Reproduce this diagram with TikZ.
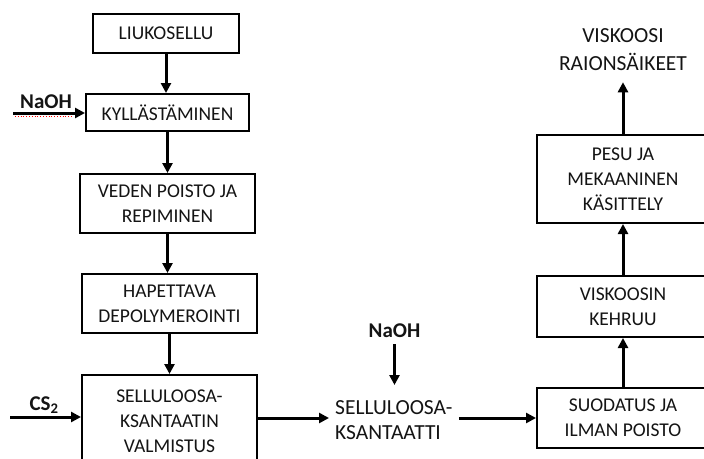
\documentclass[tikz,border=0pt]{standalone}
\usepackage{fontspec}
\setmainfont{Carlito}
\usetikzlibrary{arrows.meta}
\begin{document}
\begin{tikzpicture}[x=1pt,y=-1pt,
  stage/.style={draw, line width=2pt, rectangle, inner sep=0pt, align=center,
    font=\fontsize{19.5}{25}\selectfont, text=black!92},
  freetext/.style={inner sep=0pt, font=\fontsize{21.5}{25}\selectfont, text=black!92},
  chem/.style={inner sep=0pt, font=\fontsize{21}{25}\selectfont\bfseries, text=black!92},
  flow/.style={line width=3pt, -{Triangle[length=10pt,width=10pt]}}]
\useasboundingbox (0,0) rectangle (704,458);
\clip (0,0) rectangle (704,458);
\fill[white] (0,0) rectangle (704,458);

% left column: pulp preparation
\node[stage, minimum width=146pt, minimum height=39pt] (A) at (166,33.5) {LIUKOSELLU};
\node[stage, minimum width=163pt, minimum height=37pt] (B) at (167.5,112.5) {KYLLÄSTÄMINEN};
\node[stage, minimum width=175pt, minimum height=59pt] (C) at (167.5,203.5) {VEDEN POISTO JA\\REPIMINEN};
\node[stage, minimum width=175pt, minimum height=59pt] (D) at (169.5,303.5) {HAPETTAVA\\DEPOLYMEROINTI};
\node[stage, minimum width=175pt, minimum height=92pt] (E) at (169.5,421) {SELLULOOSA-\\KSANTAATIN\\VALMISTUS};

% feeds on the left
\node[chem] (N1) at (46,102) {NaOH};
\coordinate (naohin) at (13,113);
\draw[red, line width=0.8pt, dotted] (15,116) -- (72,116);
\node[chem] (CS) at (44,405) {CS\textsubscript{2}};
\coordinate (csin) at (10,417);

% intermediate product
\node[freetext, align=left, anchor=west, inner xsep=6pt, inner ysep=0pt] (F) at (329,420.5) {SELLULOOSA-\\KSANTAATTI};
\node[chem] (N2) at (394.5,331) {NaOH};

% right column: spinning and finishing
\node[stage, minimum width=172pt, minimum height=60pt] (G) at (623,418) {SUODATUS JA\\ILMAN POISTO};
\node[stage, minimum width=172pt, minimum height=61pt] (H) at (623,306.5) {VISKOOSIN\\KEHRUU};
\node[stage, minimum width=172pt, minimum height=88pt] (I) at (623,179) {PESU JA\\MEKAANINEN\\KÄSITTELY};
\node[freetext, align=center, font=\fontsize{21.5}{28}\selectfont, inner ysep=11pt] (J) at (623,50) {VISKOOSI\\RAIONSÄIKEET};

% connectors
\draw[flow] (A.south) -- (A.south |- B.north);
\draw[flow] (B.south) -- (B.south |- C.north);
\draw[flow] (C.south) -- (C.south |- D.north);
\draw[flow] (D.south) -- (D.south |- E.north);
\draw[flow] (naohin) -- (naohin -| B.west);
\draw[flow] (csin) -- (csin -| E.west);
\draw[flow] (E.east |- G.west) -- (F.west |- G.west);
\draw[flow] (N2.south) ++(0,6) -- (N2.south |- 0,385);
\draw[flow] (F.east |- G.west) -- (G.west);
\draw[flow] (G.north) -- (H.south);
\draw[flow] (H.north) -- (I.south);
\draw[flow] (I.north) -- (J.south);
\end{tikzpicture}
\end{document}
